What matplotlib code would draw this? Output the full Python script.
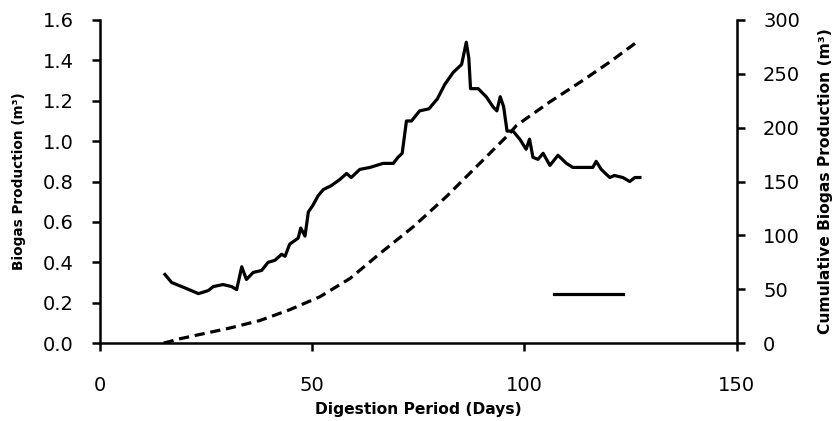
import matplotlib
matplotlib.use("Agg")
import matplotlib.pyplot as plt
from matplotlib.lines import Line2D

plt.rcParams['font.family'] = ['DejaVu Sans']

# Producción diaria de biogás (m3)
days = [15.3, 16.9, 20.4, 23.2, 25.5, 26.7, 29.0, 31.0, 32.2, 33.4, 34.5, 36.1,
        38.1, 39.6, 41.2, 42.8, 43.6, 44.7, 46.7, 47.3, 48.3, 49.1, 50.1, 51.4,
        52.6, 54.5, 56.5, 58.1, 59.2, 61.2, 63.6, 66.7, 69.1, 70.2, 71.2, 72.2,
        73.4, 75.3, 77.5, 79.5, 81.2, 83.2, 85.2, 86.3, 86.9, 87.3, 89.1, 91.0,
        92.6, 93.5, 94.3, 95.1, 95.9, 97.3, 98.9, 100.4, 101.2, 102.0, 103.2,
        104.4, 106.0, 107.9, 109.9, 111.4, 113.0, 114.6, 116.1, 116.9, 118.1,
        120.1, 121.2, 123.2, 124.8, 126.0, 127.2]
biogas = [0.34, 0.30, 0.27, 0.245, 0.26, 0.28, 0.29, 0.28, 0.265, 0.378, 0.315, 0.35,
          0.36, 0.40, 0.41, 0.44, 0.43, 0.49, 0.52, 0.57, 0.53, 0.65, 0.68, 0.73,
          0.76, 0.78, 0.81, 0.84, 0.82, 0.86, 0.87, 0.89, 0.89, 0.92, 0.94, 1.10,
          1.10, 1.15, 1.16, 1.21, 1.28, 1.34, 1.38, 1.49, 1.41, 1.26, 1.26, 1.22,
          1.17, 1.15, 1.22, 1.17, 1.05, 1.05, 1.01, 0.96, 1.01, 0.92, 0.91,
          0.94, 0.88, 0.93, 0.89, 0.87, 0.87, 0.87, 0.87, 0.90, 0.86,
          0.82, 0.83, 0.82, 0.80, 0.82, 0.82]

# Producción acumulada (m3)
cum_days = [15.0, 18.8, 23.5, 30.6, 37.7, 44.7, 51.8, 58.9, 65.9, 73.8, 81.6,
            89.5, 96.1, 98.1, 106.0, 113.8, 120.1, 127.0]
cumulative = [0, 4, 8, 14, 21, 31, 43, 60, 83, 108, 136,
              167, 193, 202, 224, 244, 261, 281]

fig = plt.figure(figsize=(8.4, 4.21), dpi=100)
ax = fig.add_axes([0.119, 0.185, 0.758, 0.7675])
ax2 = ax.twinx()

ax.plot(days, biogas, color='black', lw=2.3)
ax2.plot(cum_days, cumulative, color='black', lw=2.3, linestyle=(0, (3.2, 1.8)))

ax.set_xlim(0, 150)
ax.set_ylim(0, 1.6)
ax2.set_ylim(0, 300)
ax.set_xticks([0, 50, 100, 150])
ax.set_yticks([0.0, 0.2, 0.4, 0.6, 0.8, 1.0, 1.2, 1.4, 1.6])
ax.set_yticklabels([f"{v:.1f}" for v in ax.get_yticks()])
ax2.set_yticks([0, 50, 100, 150, 200, 250, 300])

for a in (ax, ax2):
    a.spines['top'].set_visible(False)
    for s in a.spines.values():
        s.set_linewidth(1.8)
ax.spines['right'].set_visible(False)
ax2.spines['left'].set_visible(False)
ax2.spines['bottom'].set_visible(False)

ax.tick_params(axis='x', direction='out', length=6, width=1.8, pad=18, labelsize=14)
ax.tick_params(axis='y', direction='out', length=6, width=1.8, pad=13, labelsize=14)
ax2.tick_params(axis='y', direction='out', length=6, width=1.8, pad=13, labelsize=14)

ax.set_xlabel("Digestion Period (Days)", fontsize=11.2, fontweight='bold', labelpad=4.5)
ax.set_ylabel("Biogas Production (m³)", fontsize=9.8, fontweight='bold', labelpad=12)
ax2.set_ylabel("Cumulative Biogas Production (m³)", fontsize=11.2, fontweight='bold',
               labelpad=12.5)

# leyenda sin texto (solo la muestra de línea)
ax.legend([Line2D([], [], color='black', lw=2.3)], [""], frameon=False,
          handlelength=4.9, loc='center', bbox_to_anchor=(0.776, 0.149))

fig.savefig("out.png", dpi=100)
